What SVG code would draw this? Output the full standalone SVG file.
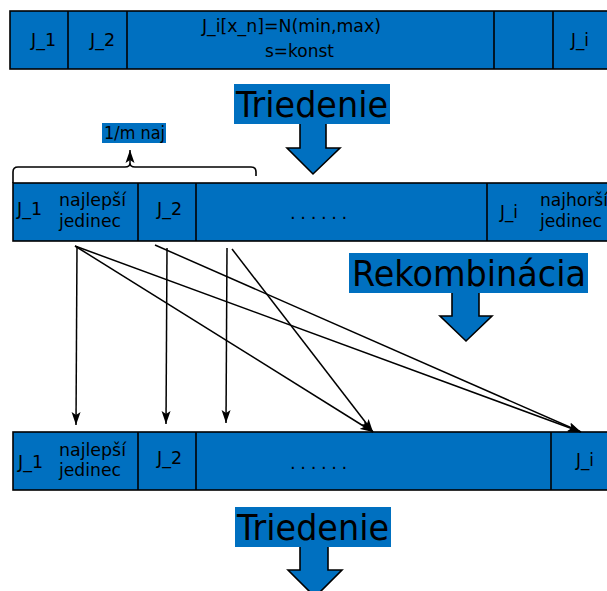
<svg xmlns="http://www.w3.org/2000/svg" width="607" height="591" viewBox="0 0 607 591">
  <style>
    .cell { fill: #0070c0; stroke: #000; stroke-width: 1.6; }
    .sep { stroke: #000; stroke-width: 1.6; }
    .lbl { font-family: "DejaVu Sans", "Noto Sans", sans-serif; font-size: 18px; fill: #000; }
    .big { font-family: "DejaVu Sans", "Noto Sans", sans-serif; font-size: 36px; fill: #000; }
    .bg { fill: #0070c0; }
    .blk { fill: #0070c0; stroke: #000; stroke-width: 1.6; stroke-linejoin: miter; }
    .con { fill: none; stroke: #000; stroke-width: 1.5; marker-end: url(#head); }
    .brace { fill: none; stroke: #000; stroke-width: 1.6; }
  </style>
  <defs>
    <marker id="head" viewBox="0 0 13 10" refX="13" refY="5" markerWidth="13" markerHeight="10" markerUnits="userSpaceOnUse" orient="auto">
      <path d="M0,0.5 L13,5 L0,9.5 L3,5 Z" fill="#000"/>
    </marker>
  </defs>

  <rect width="607" height="591" fill="#fff"/>

  <!-- initial population -->
  <g id="population-init">
    <rect class="cell" x="10" y="11" width="620" height="58"/>
    <line class="sep" x1="68" y1="11" x2="68" y2="69"/>
    <line class="sep" x1="127" y1="11" x2="127" y2="69"/>
    <line class="sep" x1="494" y1="11" x2="494" y2="69"/>
    <line class="sep" x1="553" y1="11" x2="553" y2="69"/>
    <text class="lbl" x="31" y="46" textLength="25" lengthAdjust="spacingAndGlyphs">J_1</text>
    <text class="lbl" x="90" y="46" textLength="25" lengthAdjust="spacingAndGlyphs">J_2</text>
    <text class="lbl" x="202" y="32" textLength="179" lengthAdjust="spacingAndGlyphs">J_i[x_n]=N(min,max)</text>
    <text class="lbl" x="265" y="57" textLength="69" lengthAdjust="spacingAndGlyphs">s=konst</text>
    <text class="lbl" x="571" y="46" textLength="18" lengthAdjust="spacingAndGlyphs">J_i</text>
  </g>

  <!-- sorting step 1 -->
  <g id="sort-1">
    <polygon class="blk" points="300,123 326,123 326,148 340,148 313,174 287,148 300,148"/>
    <rect class="bg" x="234" y="84" width="156" height="40"/>
    <text class="big" x="236" y="117" textLength="152" lengthAdjust="spacingAndGlyphs">Triedenie</text>
  </g>

  <!-- best fraction label -->
  <g id="best-fraction">
    <rect class="bg" x="102" y="123" width="64" height="20"/>
    <text class="lbl" x="104" y="139" style="font-size:17px" textLength="61" lengthAdjust="spacingAndGlyphs">1/m naj</text>
    <path class="brace" d="M13,183 L13,172 Q13,167 18,167 L125,167 Q130,167 130,163 Q130,167 135,167 L251,167 Q256,167 256,172 L256,176"/>
    <path class="con" d="M130,163 L130,150"/>
  </g>

  <!-- sorted population -->
  <g id="population-sorted">
    <rect class="cell" x="13" y="183" width="620" height="58"/>
    <line class="sep" x1="138" y1="183" x2="138" y2="241"/>
    <line class="sep" x1="196" y1="183" x2="196" y2="241"/>
    <line class="sep" x1="487" y1="183" x2="487" y2="241"/>
    <text class="lbl" x="17" y="215" textLength="25" lengthAdjust="spacingAndGlyphs">J_1</text>
    <text class="lbl" x="59" y="206" textLength="67" lengthAdjust="spacingAndGlyphs">najlepší</text>
    <text class="lbl" x="59" y="227" textLength="62" lengthAdjust="spacingAndGlyphs">jedinec</text>
    <text class="lbl" x="157" y="215" textLength="25" lengthAdjust="spacingAndGlyphs">J_2</text>
    <text class="lbl" x="290" y="219" letter-spacing="4.6">......</text>
    <text class="lbl" x="500" y="218" textLength="18" lengthAdjust="spacingAndGlyphs">J_i</text>
    <text class="lbl" x="540" y="206" textLength="68" lengthAdjust="spacingAndGlyphs">najhorší</text>
    <text class="lbl" x="540" y="227" textLength="62" lengthAdjust="spacingAndGlyphs">jedinec</text>
  </g>

  <!-- recombination step -->
  <g id="recombination">
    <polygon class="blk" points="452,292 479,292 479,316 492,316 466,341 440,316 452,316"/>
    <rect class="bg" x="349" y="253" width="239" height="40"/>
    <text class="big" x="352" y="286" textLength="234" lengthAdjust="spacingAndGlyphs">Rekombinácia</text>
  </g>

  <!-- new population -->
  <g id="population-new">
    <rect class="cell" x="13" y="432" width="620" height="58"/>
    <line class="sep" x1="138" y1="432" x2="138" y2="490"/>
    <line class="sep" x1="196" y1="432" x2="196" y2="490"/>
    <line class="sep" x1="551" y1="432" x2="551" y2="490"/>
    <text class="lbl" x="18" y="468" textLength="25" lengthAdjust="spacingAndGlyphs">J_1</text>
    <text class="lbl" x="59" y="456" textLength="67" lengthAdjust="spacingAndGlyphs">najlepší</text>
    <text class="lbl" x="59" y="476" textLength="62" lengthAdjust="spacingAndGlyphs">jedinec</text>
    <text class="lbl" x="157" y="464" textLength="25" lengthAdjust="spacingAndGlyphs">J_2</text>
    <text class="lbl" x="290" y="469" letter-spacing="4.6">......</text>
    <text class="lbl" x="576" y="466" textLength="18" lengthAdjust="spacingAndGlyphs">J_i</text>
  </g>

  <!-- sorting step 2 -->
  <g id="sort-2">
    <polygon class="blk" points="300,546 328,546 328,570 342,570 315,597 288,570 300,570"/>
    <rect class="bg" x="235" y="507" width="156" height="40"/>
    <text class="big" x="237" y="540" textLength="152" lengthAdjust="spacingAndGlyphs">Triedenie</text>
  </g>

  <!-- recombination connectors -->
  <g id="connectors">
    <path class="con" d="M77,246 L76,425"/>
    <path class="con" d="M75,246 L373,432"/>
    <path class="con" d="M75,246 L581,432"/>
    <path class="con" d="M155,245 L581,432"/>
    <path class="con" d="M167,248 L166,424"/>
    <path class="con" d="M227,248 L226,423"/>
    <path class="con" d="M232,249 L373,432"/>
  </g>
</svg>
